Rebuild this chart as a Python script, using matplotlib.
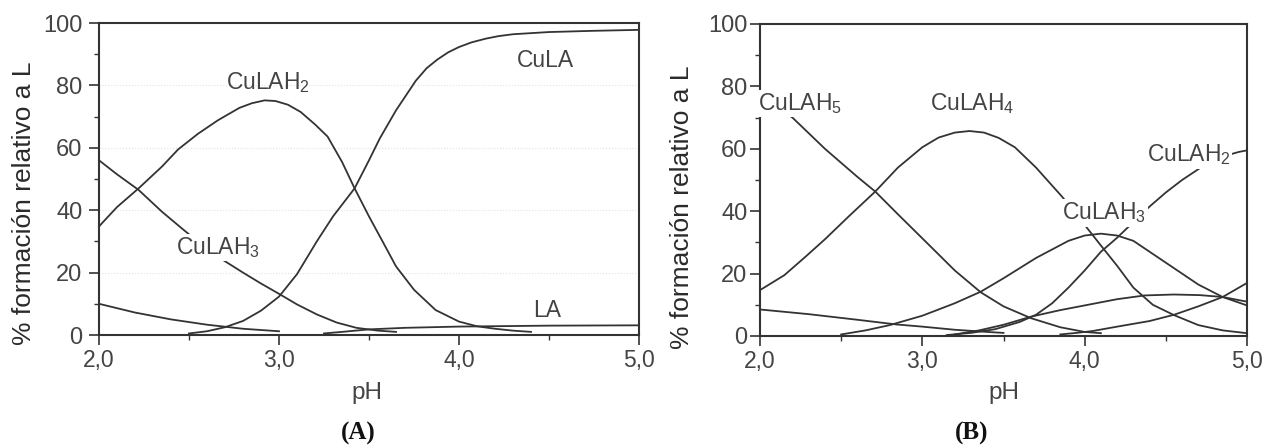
import matplotlib
matplotlib.use("Agg")
import matplotlib.pyplot as plt
from matplotlib.ticker import MultipleLocator, FixedLocator, FixedFormatter

plt.rcParams['font.family'] = ['Liberation Sans', 'DejaVu Sans']
plt.rcParams['mathtext.fontset'] = 'custom'
plt.rcParams['mathtext.rm'] = 'Liberation Sans'
plt.rcParams['mathtext.default'] = 'regular'

# ---------------- Panel A data ----------------
a_culah2_x = [2.0, 2.1, 2.22, 2.35, 2.44, 2.55, 2.66, 2.78, 2.85, 2.92, 2.98, 3.05, 3.12, 3.2, 3.27, 3.35, 3.42, 3.5, 3.58, 3.65, 3.75, 3.87, 4.0, 4.1, 4.2, 4.3, 4.4]
a_culah2_y = [34.8, 41, 47, 54, 59.5, 64.5, 68.8, 72.8, 74.3, 75.2, 75, 73.8, 71.5, 67.5, 63.6, 55.5, 47, 38, 29.5, 22, 14.5, 8, 4.3, 2.8, 2, 1.4, 1]
a_cula_x = [2.5, 2.6, 2.7, 2.8, 2.9, 3.0, 3.1, 3.21, 3.3, 3.42, 3.5, 3.56, 3.65, 3.76, 3.82, 3.88, 3.94, 4.0, 4.07, 4.15, 4.22, 4.3, 4.5, 4.75, 5.0]
a_cula_y = [0.5, 1.2, 2.5, 4.5, 7.8, 12.3, 19.5, 30, 38, 47, 56, 63, 72, 81.5, 85.5, 88.3, 90.6, 92.3, 93.8, 95, 95.8, 96.4, 97.1, 97.5, 97.8]
a_culah3_x = [2.0, 2.1, 2.22, 2.35, 2.47, 2.58, 2.69, 2.8, 2.9, 3.0, 3.1, 3.21, 3.32, 3.43, 3.55, 3.65]
a_culah3_y = [56, 51.5, 46.5, 39.5, 33.7, 28.5, 24, 20, 16.5, 13.2, 9.8, 6.6, 4, 2.3, 1.4, 1.0]
a_other_x = [2.0, 2.2, 2.4, 2.6, 2.8, 3.0]
a_other_y = [10, 7.2, 5, 3.3, 2, 1.2]
a_la_x = [3.25, 3.35, 3.5, 3.7, 4.0, 4.5, 5.0]
a_la_y = [0.5, 1, 1.8, 2.3, 2.7, 3, 3.1]

# ---------------- Panel B data ----------------
b_culah5_x = [2.0, 2.2, 2.4, 2.6, 2.71, 2.85, 3.0, 3.2, 3.36, 3.5, 3.67, 3.85, 4.0, 4.1]
b_culah5_y = [77, 70, 60, 51, 46.3, 39, 31.3, 21, 14, 9.5, 5.7, 2.8, 1.3, 0.9]
b_culah4_x = [2.0, 2.15, 2.28, 2.4, 2.55, 2.71, 2.85, 3.0, 3.1, 3.2, 3.29, 3.38, 3.47, 3.57, 3.7, 3.86, 4.0, 4.1, 4.2, 4.3, 4.42, 4.55, 4.7, 4.85, 5.0]
b_culah4_y = [14.7, 19.5, 25.4, 31, 38.5, 46.3, 54, 60.5, 63.6, 65.2, 65.7, 65.2, 63.5, 60.5, 54, 44.7, 35.6, 29, 22.5, 15.5, 10, 6.7, 3.5, 1.8, 0.9]
b_culah3_x = [2.5, 2.65, 2.8, 3.0, 3.2, 3.36, 3.5, 3.7, 3.9, 4.0, 4.1, 4.2, 4.3, 4.5, 4.7, 4.85, 5.0]
b_culah3_y = [0.5, 1.8, 3.5, 6.5, 10.5, 14.2, 18.5, 25, 30.5, 32.2, 32.8, 32.2, 30.5, 23.5, 16.5, 12.5, 9.8]
b_culah2_x = [3.15, 3.3, 3.45, 3.6, 3.7, 3.8, 3.9, 4.0, 4.1, 4.2, 4.3, 4.4, 4.5, 4.6, 4.73, 4.85, 4.95, 5.0]
b_culah2_y = [0.3, 1, 2.2, 4.5, 6.8, 10.5, 15.5, 21, 27, 31.5, 36.5, 41.5, 46, 50, 54.5, 57.5, 59, 59.5]
b_bump_x = [3.2, 3.35, 3.5, 3.67, 3.85, 4.0, 4.2, 4.37, 4.55, 4.71, 4.85, 5.0]
b_bump_y = [0.5, 1.8, 3.6, 6.2, 8.3, 9.8, 11.8, 13, 13.3, 13.1, 12.5, 11]
b_rise_x = [3.85, 3.95, 4.05, 4.2, 4.4, 4.55, 4.7, 4.85, 5.0]
b_rise_y = [0.5, 1.0, 1.6, 3.0, 4.8, 6.8, 9.5, 12.5, 17]
b_other_x = [2.0, 2.3, 2.6, 2.84, 3.0, 3.2, 3.4, 3.5]
b_other_y = [8.5, 7, 5.2, 3.7, 3.0, 2.0, 1.3, 1.0]

x_ticks = [2.0, 3.0, 4.0, 5.0]
x_tick_labels = ['2,0', '3,0', '4,0', '5,0']
y_ticks = [0, 20, 40, 60, 80, 100]
y_tick_labels = ['0', '20', '40', '60', '80', '100']

LC = '#333333'
TC = '#444444'

fig = plt.figure(figsize=(12.65, 4.47), dpi=100)
axA = fig.add_axes([99/1265, 1-335/447, 540/1265, 312/447])
axB = fig.add_axes([760/1265, 1-336/447, 487/1265, 312/447])

def style(ax, ypad, ylab_xy, xlab_xy):
    ax.set_xlim(2, 5)
    ax.set_ylim(0, 100)
    ax.xaxis.set_major_locator(FixedLocator(x_ticks))
    ax.xaxis.set_major_formatter(FixedFormatter(x_tick_labels))
    ax.yaxis.set_major_locator(FixedLocator(y_ticks))
    ax.yaxis.set_major_formatter(FixedFormatter(y_tick_labels))
    ax.xaxis.set_minor_locator(MultipleLocator(0.5))
    ax.yaxis.set_minor_locator(MultipleLocator(10))
    ax.tick_params(which='major', direction='out', length=7, width=1.2, color=LC,
                   labelcolor=TC)
    ax.tick_params(axis='y', which='major', pad=ypad, labelsize=17)
    ax.tick_params(axis='x', which='major', pad=3, labelsize=16.5)
    ax.tick_params(which='minor', direction='out', length=3.5, width=1.0, color=LC)
    for s in ax.spines.values():
        s.set_color(LC)
        s.set_linewidth(1.5)
    xl = ax.set_xlabel('pH', fontsize=17.5, color=TC)
    ax.xaxis.set_label_coords(*xlab_xy)
    xl.set_va('center')
    yl = ax.set_ylabel('% formación relativo a L', fontsize=19, color='#2a2a2a')
    ax.yaxis.set_label_coords(*ylab_xy)
    yl.set_va('center')

style(axA, 5, ((24-99)/540, 0.423), ((367-99)/540, -0.186))
style(axB, 2, ((682-760)/487, 0.413), (0.5, -0.183))

for v in [20, 40, 60, 80]:
    axA.axhline(v, color='#e2e2e2', lw=0.8, ls=':', zorder=0)

lw = 1.3
for xs, ys in [(a_culah2_x, a_culah2_y), (a_cula_x, a_cula_y), (a_culah3_x, a_culah3_y),
               (a_other_x, a_other_y), (a_la_x, a_la_y)]:
    axA.plot(xs, ys, color=LC, lw=lw, clip_on=False)

for xs, ys in [(b_culah5_x, b_culah5_y), (b_culah4_x, b_culah4_y), (b_culah3_x, b_culah3_y),
               (b_culah2_x, b_culah2_y), (b_bump_x, b_bump_y), (b_rise_x, b_rise_y),
               (b_other_x, b_other_y)]:
    axB.plot(xs, ys, color=LC, lw=lw, clip_on=False)

FS = 16.5
wb = dict(facecolor='white', edgecolor='none', pad=1.0)
def lab(ax, x, y, s, box=False):
    ax.text(x, y, s, fontsize=FS, color=TC, ha='center', va='center', zorder=5,
            clip_on=False, bbox=wb if box else None)

lab(axA, 2.94, 81, 'CuLAH$_2$')
lab(axA, 4.48, 88, 'CuLA')
lab(axA, 2.66, 28, 'CuLAH$_3$', box=True)
lab(axA, 4.49, 8, 'LA')

lab(axB, 2.25, 74.5, 'CuLAH$_5$', box=True)
lab(axB, 3.31, 74.5, 'CuLAH$_4$')
lab(axB, 4.12, 39.5, 'CuLAH$_3$', box=True)
lab(axB, 4.64, 58, 'CuLAH$_2$', box=True)

fig.text(358/1265, 1-433/447, '(A)', fontsize=18, fontweight='bold',
         family='Liberation Serif', ha='center', va='center', color='#111111')
fig.text(972/1265, 1-433/447, '(B)', fontsize=18, fontweight='bold',
         family='Liberation Serif', ha='center', va='center', color='#111111')

fig.savefig('out.png', dpi=100)
